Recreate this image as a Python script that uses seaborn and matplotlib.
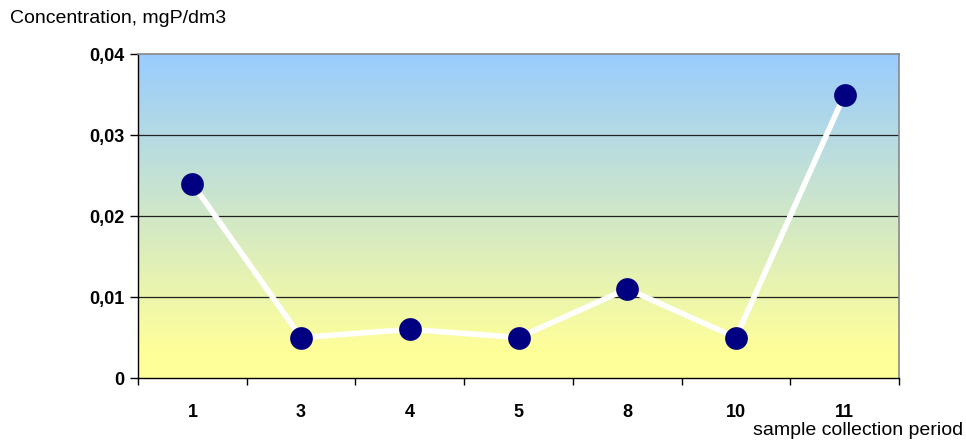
import numpy as np
import pandas as pd
import matplotlib.pyplot as plt
import matplotlib.colors as mcolors
import seaborn as sns

# Daten
periods = ['1', '3', '4', '5', '8', '10', '11']
concentration = [0.024, 0.005, 0.006, 0.005, 0.011, 0.005, 0.035]
y_ticks = [0, 0.01, 0.02, 0.03, 0.04]
y_tick_labels = ['0', '0,01', '0,02', '0,03', '0,04']

df = pd.DataFrame({'period': periods, 'conc': concentration})
df['pos'] = range(len(periods))

sns.set_style('white')
plt.rcParams['font.family'] = ['Liberation Sans', 'DejaVu Sans']
plt.rcParams['text.color'] = 'black'
plt.rcParams['xtick.color'] = 'black'
plt.rcParams['ytick.color'] = 'black'

fig = plt.figure(figsize=(9.66, 4.43), dpi=100)
ax = fig.add_axes([0.1429, 0.1467, 0.7877, 0.7314])

# Farbverlauf im Hintergrund
cmap = mcolors.LinearSegmentedColormap.from_list(
    'bg', [(0.0, '#FFFF99'), (0.08, '#FFFF99'), (1.0, '#99CCFF')])
grad = np.linspace(0, 1, 256).reshape(-1, 1)
ax.imshow(grad, cmap=cmap, aspect='auto', origin='lower',
          extent=[-0.5, len(periods) - 0.5, 0, 0.04], zorder=0)

for yv in y_ticks[1:-1]:
    ax.axhline(yv, color='#222222', lw=0.9, zorder=1)

sns.lineplot(data=df, x='pos', y='conc', color='white', lw=4,
             sort=False, ax=ax, zorder=2)
sns.scatterplot(data=df, x='pos', y='conc', color='#000080', s=230,
                edgecolor='#000080', ax=ax, zorder=3)

ax.set_xlim(-0.5, len(periods) - 0.5)
ax.set_ylim(0, 0.04)
ax.set_xticks(df['pos'])
ax.set_xticklabels(periods, fontsize=13, fontweight='bold', color='black')
ax.set_xticks(np.arange(-0.5, len(periods)), minor=True)
ax.tick_params(axis='x', which='major', length=0, pad=19)
ax.tick_params(axis='x', which='minor', length=5, width=1, color='black',
               direction='out', bottom=True)
ax.set_yticks(y_ticks)
ax.set_yticklabels(y_tick_labels, fontsize=13, fontweight='bold', color='black')
ax.tick_params(axis='y', length=6, width=1, color='black', direction='out',
               left=True, pad=4)

for side in ['left', 'bottom']:
    ax.spines[side].set_color('black')
    ax.spines[side].set_linewidth(1)
for side in ['top', 'right']:
    ax.spines[side].set_color('#888888')
    ax.spines[side].set_linewidth(1.2)

ax.set_xlabel('')
ax.set_ylabel('')
fig.text(0.010, 0.959, 'Concentration, mgP/dm3', fontsize=14, ha='left', va='center')
fig.text(0.997, 0.029, 'sample collection period', fontsize=14, ha='right', va='center')

fig.savefig('out.png', dpi=100)
